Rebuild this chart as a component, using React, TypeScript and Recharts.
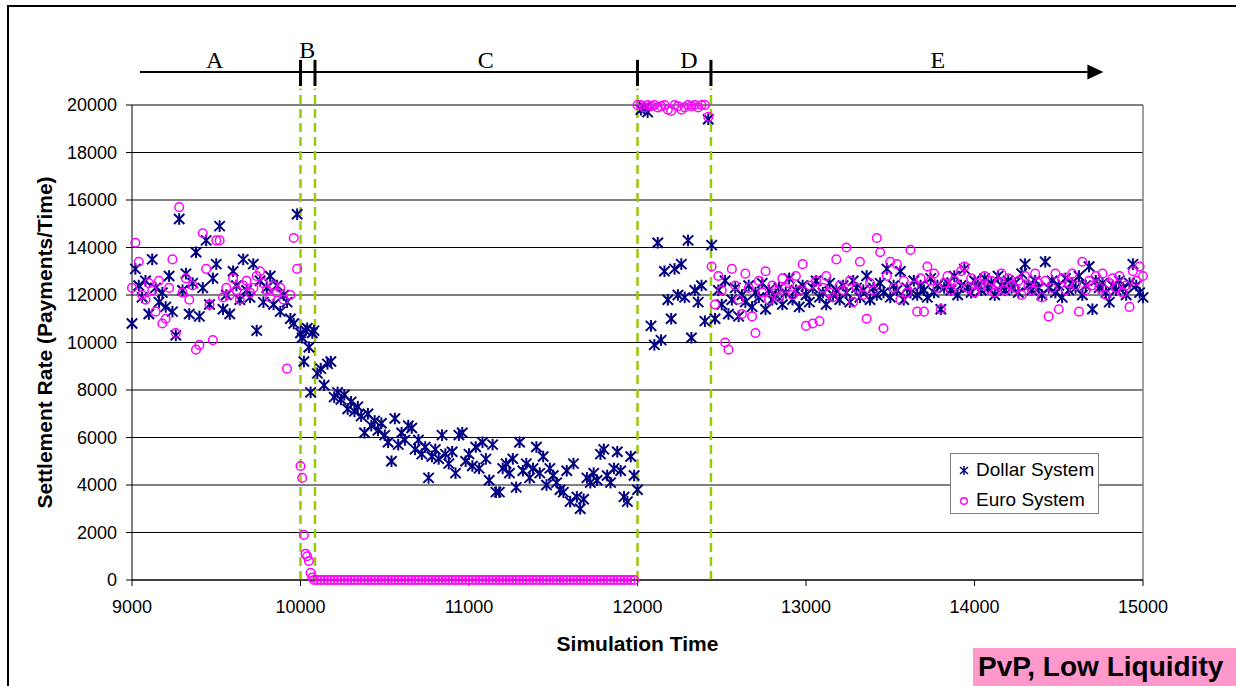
import React from 'react';
import {
  ScatterChart,
  Scatter,
  XAxis,
  YAxis,
  CartesianGrid,
  ReferenceLine,
  ReferenceDot,
  Legend,
} from 'recharts';

// sampling of the simulation: phase start time and step between samples
const phaseStarts = [9000, 10000, 10100, 12000, 12440];
const phaseSteps = [20, 10, 20, 20, 20];

// phase boundaries (green dashed lines) and the A..E annotation
const phaseBounds = [10000, 10086, 12000, 12436];
const phaseLabels = ['A', 'B', 'C', 'D', 'E'];
const phaseLabelTimes = [9490, 10040, 11100, 12305, 13783];

const xTicks = [9000, 10000, 11000, 12000, 13000, 14000, 15000];
const yTicks = [0, 2000, 4000, 6000, 8000, 10000, 12000, 14000, 16000, 18000, 20000];

const seriesNames = ['Dollar System', 'Euro System'];

const dollarA = [
  10800, 13100, 12400, 11900, 12600, 11200, 13500, 12300, 11700, 12100,
  11500, 12800, 11300, 10300, 15200, 12200, 12900, 11200, 12500, 13800,
  11100, 12300, 14300, 11600, 12700, 13300, 14900, 11400, 12000, 11200,
  13000, 12400, 11800, 13500, 12200, 11900, 13300, 10500, 12600, 11700,
  12300, 12800, 11600, 12400, 11300, 12000, 11700, 11000, 10800, 15400,
];
const dollarB = [10400, 10200, 9200, 10500, 10600, 9800, 7900, 10400, 10500];
const dollarC = [
  8700, 8900, 8200, 9100, 9200, 7700, 7900, 7600, 7800, 7200,
  7500, 7100, 7300, 6900, 6200, 7000, 6500, 6700, 6300, 6600,
  6100, 5800, 5000, 6800, 5700, 6200, 5900, 6500, 6400, 5500,
  5900, 5300, 5600, 4300, 5200, 5500, 5100, 6100, 5300, 4900,
  5400, 4500, 6100, 6200, 5000, 5300, 4800, 5600, 4700, 5800,
  5100, 4200, 5700, 3700, 3700, 4700, 4900, 4500, 5100, 3900,
  5800, 4600, 4900, 4300, 4700, 5600, 4500, 5200, 4000, 4700,
  4400, 4100, 3800, 3700, 4600, 3300, 4900, 3500, 3000, 3400,
  4300, 4100, 4500, 4200, 5300, 5500, 4400, 4100, 4700, 5400,
  4600, 3500, 3300, 5200, 4400,
];
const dollarD = [
  3800, 19800, 19900, 19700, 10700, 9900, 14200, 10100, 13000, 11800, 11000,
  13100, 12000, 13300, 11900, 14300, 10200, 12200, 11700, 12400, 10900, 19400,
];
const dollarE = [
  14100, 11000, 12200, 11600, 12600, 11200, 11800, 12300, 11100, 12000,
  11700, 12400, 11500, 12100, 11900, 12500, 11400, 12200, 11800, 12000,
  12300, 11600, 12100, 12700, 11800, 12200, 11500, 12400, 12000, 11700,
  12300, 12600, 11900, 12100, 11600, 12500, 12000, 12200, 11800, 12400,
  12100, 11700, 12600, 12300, 11900, 12200, 12800, 11800, 12300, 12000,
  12500, 12100, 13100, 11900, 12400, 12200, 13000, 11800, 12300, 12100,
  12600, 12000, 12400, 12200, 11900, 12700, 12100, 12400, 11400, 12300,
  12500, 12200, 12800, 12000, 12400, 13100, 12300, 12100, 12600, 12400,
  12200, 12700, 12300, 12500, 12000, 12800, 12400, 12200, 12600, 12300,
  12500, 12100, 12900, 13300, 12400, 12200, 12600, 12300, 12000, 13400,
  12300, 12600, 12100, 12400, 11900, 12700, 12200, 12500, 12300, 12800,
  12000, 12400, 13200, 11400, 12600, 12300, 12500, 12100, 11700, 12400,
  12200, 12600, 12300, 12000, 12500, 13300, 12400, 12100, 11900,
];

const euroA = [
  12300, 14200, 13400, 12000, 11800, 12500, 12200, 11300, 12600, 10800,
  11000, 12300, 13500, 10400, 15700, 12100, 12700, 11800, 12400, 9700,
  9900, 14600, 13100, 11600, 10100, 14300, 14300, 11900, 12300, 12000,
  12700, 12200, 11800, 12400, 12600, 12100, 12300, 12800, 13000, 12500,
  12200, 11900, 12400, 12100, 12300, 11800, 8900, 12000, 14400, 13100,
];
const euroB = [4800, 4300, 1900, 1100, 1000, 800, 300, 100, 0];
const euroC = [
  0, 0, 0, 0, 0, 0, 0, 0, 0, 0,
  0, 0, 0, 0, 0, 0, 0, 0, 0, 0,
  0, 0, 0, 0, 0, 0, 0, 0, 0, 0,
  0, 0, 0, 0, 0, 0, 0, 0, 0, 0,
  0, 0, 0, 0, 0, 0, 0, 0, 0, 0,
  0, 0, 0, 0, 0, 0, 0, 0, 0, 0,
  0, 0, 0, 0, 0, 0, 0, 0, 0, 0,
  0, 0, 0, 0, 0, 0, 0, 0, 0, 0,
  0, 0, 0, 0, 0, 0, 0, 0, 0, 0,
  0, 0, 0, 0, 0,
];
const euroD = [
  20000, 20000, 19900, 20000, 19950, 20000, 19900, 19950, 20000, 19800, 19750,
  20000, 19950, 19800, 19900, 20000, 19950, 20000, 19900, 20000, 20000, 19500,
];
const euroE = [
  13200, 11600, 12800, 12200, 10000, 9700, 13100, 12400, 11800, 11200,
  12900, 12300, 11100, 10400, 12600, 12100, 13000, 11800, 12400, 12200,
  11900, 12700, 12300, 12500, 12000, 12800, 12200, 13300, 10700, 12400,
  10800, 12600, 10900, 12300, 12800, 12100, 11900, 13500, 12400, 12200,
  14000, 12600, 11700, 12300, 13400, 12000, 11000, 12500, 12200, 14400,
  13800, 10600, 12800, 13400, 12300, 13300, 11800, 12600, 12100, 13900,
  12400, 11300, 12700, 11300, 13200, 12600, 12900, 12300, 11400, 12500,
  12800, 12200, 12600, 12400, 13000, 13200, 12300, 12700, 12100, 12500,
  12400, 12800, 12300, 12600, 12100, 12500, 12900, 12200, 12700, 12400,
  12300, 12600, 12000, 12800, 12400, 12200, 12900, 12500, 11900, 12600,
  11100, 12300, 12900, 11400, 12700, 12200, 12500, 12900, 12400, 11300,
  13400, 12200, 12600, 12400, 12800, 12300, 12900, 12000, 12500, 12700,
  12300, 12800, 12100, 12400, 11500, 13000, 12600, 13200, 12800,
];

const toPoints = (phases: number[][]) =>
  phases.flatMap((vals, p) => vals.map((y, i) => ({ x: phaseStarts[p] + i * phaseSteps[p], y })));

const dollarData = toPoints([dollarA, dollarB, dollarC, dollarD, dollarE]);
const euroData = toPoints([euroA, euroB, euroC, euroD, euroE]);

const SANS = "'Liberation Sans', Arial, sans-serif";
const SERIF = "'Liberation Serif', 'Times New Roman', serif";
const NAVY = '#000080';
const MAGENTA = '#FF00FF';
const GREEN = '#99CC00';

// annotation heights, above the 20000 line
const ARROW_Y = 21390;
const BAR_TOP = 21900;
const BAR_BOTTOM = 20800;
const DASH_TOP = 20700;

const Star = (props: any) => {
  const { cx, cy } = props;
  if (cx == null || cy == null) return null;
  return (
    <g stroke={NAVY} strokeWidth={2}>
      <line x1={cx - 5.2} y1={cy - 5} x2={cx + 5.2} y2={cy + 5} />
      <line x1={cx - 5.2} y1={cy + 5} x2={cx + 5.2} y2={cy - 5} />
      <line x1={cx} y1={cy - 5.8} x2={cx} y2={cy + 5.8} />
    </g>
  );
};

const Ring = (props: any) => {
  const { cx, cy } = props;
  if (cx == null || cy == null) return null;
  return <circle cx={cx} cy={cy} r={4.3} fill="none" stroke={MAGENTA} strokeWidth={1.5} />;
};

const LegendBox = () => (
  <div
    style={{
      width: 149,
      height: 61,
      boxSizing: 'border-box',
      border: '1px solid #808080',
      background: '#fff',
      position: 'relative',
      fontFamily: SANS,
      fontSize: 19,
      color: '#000',
    }}
  >
    {seriesNames.map((name, i) => (
      <div
        key={name}
        style={{ position: 'absolute', left: 6, top: 4 + i * 30, height: 24, display: 'flex', alignItems: 'center' }}
      >
        <svg width={14} height={14}>
          {i === 0 ? (
            <g stroke={NAVY} strokeWidth={1.5}>
              <line x1={3} y1={4} x2={11} y2={11} />
              <line x1={3} y1={11} x2={11} y2={4} />
              <line x1={7} y1={3} x2={7} y2={12} />
            </g>
          ) : (
            <circle cx={7} cy={8} r={3.3} fill="none" stroke={MAGENTA} strokeWidth={1.4} />
          )}
        </svg>
        <span style={{ marginLeft: 5, whiteSpace: 'nowrap' }}>{name}</span>
      </div>
    ))}
  </div>
);

export default function App() {
  return (
    <div style={{ position: 'absolute', left: 0, top: 0, width: 1236, height: 686, overflow: 'hidden', background: '#fff' }}>
      <div
        style={{
          position: 'absolute',
          left: 7,
          top: 5,
          width: 1300,
          height: 720,
          border: '2px solid #000',
          boxSizing: 'border-box',
        }}
      />
      <div style={{ position: 'absolute', left: 0, top: 0 }}>
        <ScatterChart width={1236} height={686} margin={{ top: 105, right: 93, bottom: 26, left: 0 }}>
          <CartesianGrid vertical={false} stroke="#000" strokeWidth={1} />
          <XAxis
            type="number"
            dataKey="x"
            domain={[9000, 15000]}
            ticks={xTicks}
            height={80}
            tickSize={6}
            tickMargin={14}
            axisLine={{ stroke: '#000' }}
            tickLine={{ stroke: '#000' }}
            tick={{ fill: '#000', fontSize: 18, fontFamily: SANS }}
            label={{
              value: 'Simulation Time',
              position: 'insideTop',
              offset: 56,
              style: { fontFamily: SANS, fontSize: 21, fontWeight: 'bold', fill: '#000' },
            }}
          />
          <YAxis
            type="number"
            dataKey="y"
            domain={[0, 20000]}
            ticks={yTicks}
            width={132}
            tickSize={6}
            tickMargin={9}
            axisLine={{ stroke: '#000' }}
            tickLine={{ stroke: '#000' }}
            tick={{ fill: '#000', fontSize: 18, fontFamily: SANS }}
            label={{
              value: 'Settlement Rate (Payments/Time)',
              angle: -90,
              position: 'insideLeft',
              offset: 45,
              style: { fontFamily: SANS, fontSize: 21, fontWeight: 'bold', fill: '#000', textAnchor: 'middle' },
            }}
          />
          <ReferenceLine y={20000} stroke="#808080" strokeWidth={1.5} />
          <ReferenceLine x={15000} stroke="#808080" strokeWidth={1.5} />
          {phaseBounds.map((t) => (
            <ReferenceLine
              key={`dash-${t}`}
              segment={[{ x: t, y: 0 }, { x: t, y: DASH_TOP }]}
              ifOverflow="visible"
              stroke={GREEN}
              strokeWidth={2.5}
              strokeDasharray="9 5"
            />
          ))}
          <ReferenceLine
            segment={[{ x: 9047, y: ARROW_Y }, { x: 14670, y: ARROW_Y }]}
            ifOverflow="visible"
            stroke="#000"
            strokeWidth={2}
          />
          <ReferenceDot
            x={14670}
            y={ARROW_Y}
            ifOverflow="visible"
            shape={(p: any) => (
              <polygon points={`${p.cx},${p.cy - 7.5} ${p.cx + 16},${p.cy} ${p.cx},${p.cy + 7.5}`} fill="#000" />
            )}
          />
          {phaseBounds.map((t) => (
            <ReferenceLine
              key={`bar-${t}`}
              segment={[{ x: t, y: BAR_BOTTOM }, { x: t, y: BAR_TOP }]}
              ifOverflow="visible"
              stroke="#000"
              strokeWidth={3}
            />
          ))}
          {phaseLabels.map((label, i) => (
            <ReferenceDot
              key={`lbl-${label}`}
              x={phaseLabelTimes[i]}
              y={ARROW_Y}
              ifOverflow="visible"
              shape={(p: any) => (
                <text
                  x={p.cx}
                  y={p.cy - (label === 'B' ? 14 : 4)}
                  textAnchor="middle"
                  fontFamily={SERIF}
                  fontSize={24}
                  fill="#000"
                >
                  {label}
                </text>
              )}
            />
          ))}
          <Scatter name={seriesNames[0]} data={dollarData} shape={Star} isAnimationActive={false} />
          <Scatter name={seriesNames[1]} data={euroData} shape={Ring} isAnimationActive={false} />
          <Legend
            layout="vertical"
            align="center"
            verticalAlign="middle"
            wrapperStyle={{ left: 950, top: 453, width: 149, height: 61 }}
            content={() => <LegendBox />}
          />
        </ScatterChart>
      </div>
      <div
        style={{
          position: 'absolute',
          left: 973,
          top: 648,
          width: 263,
          height: 38,
          background: '#FF99CC',
          fontFamily: SANS,
          fontWeight: 'bold',
          fontSize: 28,
          lineHeight: '38px',
          paddingLeft: 5,
          boxSizing: 'border-box',
          whiteSpace: 'nowrap',
          color: '#000',
        }}
      >
        PvP, Low Liquidity
      </div>
    </div>
  );
}
